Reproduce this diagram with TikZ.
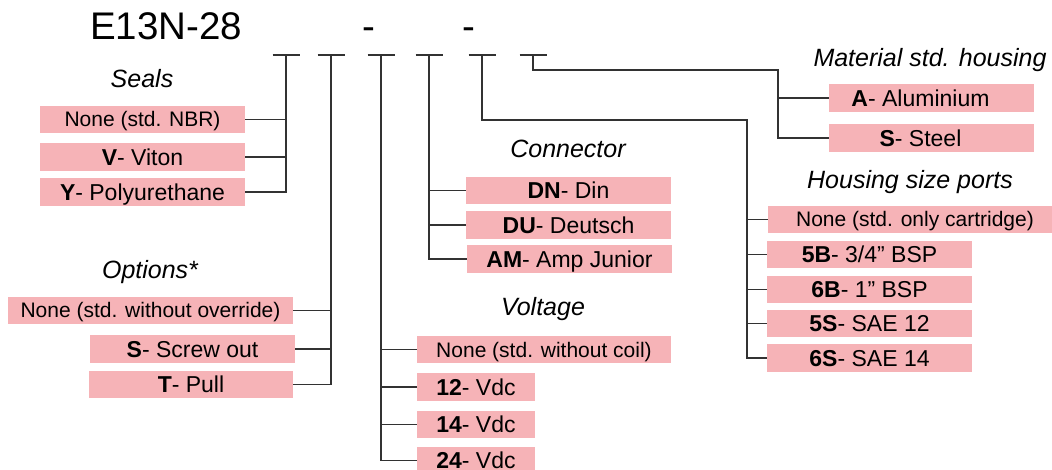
\documentclass[tikz,border=0pt]{standalone}
\usepackage{fontspec}
\setmainfont{Liberation Sans}
\definecolor{pinkc}{RGB}{246,179,183}
\definecolor{linec}{RGB}{50,50,50}
\begin{document}
\begin{tikzpicture}[x=1pt,y=-1pt,
  box/.style={fill=pinkc,draw=none,inner sep=0pt,minimum height=27.5pt,
    text height=16.5pt,text depth=0pt,font=\fontsize{23}{26}\selectfont,anchor=center},
  nbox/.style={box,text height=15pt,font=\fontsize{21}{24}\selectfont},
  head/.style={inner sep=0pt,anchor=base,font=\fontsize{25}{28}\selectfont\itshape},
  conn/.style={draw=linec,line width=1.4pt},
  tbar/.style={draw=linec,line width=1.4pt}]
\useasboundingbox (0,0) rectangle (1052,470);
\clip (0,0) rectangle (1052,470);

% title
\node[inner sep=0pt,anchor=base west,font=\fontsize{38.5}{42}\selectfont] (title) at (90,39.5) {E13N-28};
\node[inner sep=0pt,anchor=base,font=\fontsize{38.5}{42}\selectfont] (d1) at (369,39.5) {-};
\node[inner sep=0pt,anchor=base,font=\fontsize{38.5}{42}\selectfont] (d2) at (469,39.5) {-};

% T markers
\coordinate (t1) at (286,55);
\coordinate (t2) at (331,55);
\coordinate (t3) at (381,55);
\coordinate (t4) at (429,55);
\coordinate (t5) at (482,55);
\coordinate (t6) at (533,55);
\foreach \t in {t1,t2,t3,t4,t5,t6}{\draw[tbar] (\t) +(-13.5,0) -- +(13.5,0);}

% Seals
\node[head] (hseals) at (142,88) {Seals};
\node[nbox,minimum width=205pt] (s1) at (142.5,119.5) {None (std. NBR)};
\node[box,minimum width=205pt] (s2) at (142.5,157) {\textbf{V}- Viton};
\node[box,minimum width=205pt] (s3) at (142.5,192) {\textbf{Y}- Polyurethane};
\draw[conn] (t1) |- (s3.east);
\draw[conn] (s1.east) -- (s1.east -| t1);
\draw[conn] (s2.east) -- (s2.east -| t1);

% Options
\node[head] (hopt) at (150,279) {Options*};
\node[nbox,minimum width=285pt] (o1) at (150.5,310.5) {None (std. without override)};
\node[box,minimum width=205pt] (o2) at (192.5,349) {\textbf{S}- Screw out};
\node[box,minimum width=204pt] (o3) at (191,384.5) {\textbf{T}- Pull};
\draw[conn] (t2) |- (o3.east);
\draw[conn] (o1.east) -- (o1.east -| t2);
\draw[conn] (o2.east) -- (o2.east -| t2);

% Voltage
\node[head] (hvolt) at (543,316) {Voltage};
\node[nbox,minimum width=254pt] (v1) at (544,349.5) {None (std. without coil)};
\node[box,minimum width=118pt] (v2) at (476,387) {\textbf{12}- Vdc};
\node[box,minimum width=118pt] (v3) at (476,424.5) {\textbf{14}- Vdc};
\node[box,minimum width=118pt] (v4) at (476,460.5) {\textbf{24}- Vdc};
\draw[conn] (t3) |- (v4.west);
\draw[conn] (v1.west) -- (v1.west -| t3);
\draw[conn] (v2.west) -- (v2.west -| t3);
\draw[conn] (v3.west) -- (v3.west -| t3);

% Connector
\node[head] (hcon) at (568,158) {Connector};
\node[box,minimum width=205pt] (c1) at (568.5,190.5) {\textbf{DN}- Din};
\node[box,minimum width=205pt] (c2) at (568.5,225) {\textbf{DU}- Deutsch};
\node[box,minimum width=205pt] (c3) at (569.5,259) {\textbf{AM}- Amp Junior};
\draw[conn] (t4) |- (c3.west);
\draw[conn] (c1.west) -- (c1.west -| t4);
\draw[conn] (c2.west) -- (c2.west -| t4);

% Housing size ports
\node[head] (hhous) at (910,189) {Housing size ports};
\node[nbox,minimum width=294pt] (h1) at (915,219.5) {None (std. only cartridge)};
\node[box,minimum width=205pt] (h2) at (869.5,254.5) {\textbf{5B}- 3/4'' BSP};
\node[box,minimum width=205pt] (h3) at (869.5,289.5) {\textbf{6B}- 1'' BSP};
\node[box,minimum width=205pt] (h4) at (869.5,323.5) {\textbf{5S}- SAE 12};
\node[box,minimum width=205pt] (h5) at (869.5,358) {\textbf{6S}- SAE 14};
\coordinate (hk) at (747,120);
\draw[conn] (t5) |- (hk) |- (h5.west);
\draw[conn] (h1.west) -- (h1.west -| hk);
\draw[conn] (h2.west) -- (h2.west -| hk);
\draw[conn] (h3.west) -- (h3.west -| hk);
\draw[conn] (h4.west) -- (h4.west -| hk);

% Material std. housing
\node[head] (hmat) at (930,67) {Material std. housing};
\node[box,minimum width=205pt] (m1) at (931.5,98) {\textbf{A}- Aluminium\hspace*{22pt}};
\node[box,minimum width=205pt] (m2) at (931.5,138) {\textbf{S}- Steel\hspace*{22pt}};
\coordinate (mk) at (778,70);
\draw[conn] (t6) |- (mk) |- (m2.west);
\draw[conn] (m1.west) -- (m1.west -| mk);
\end{tikzpicture}
\end{document}
